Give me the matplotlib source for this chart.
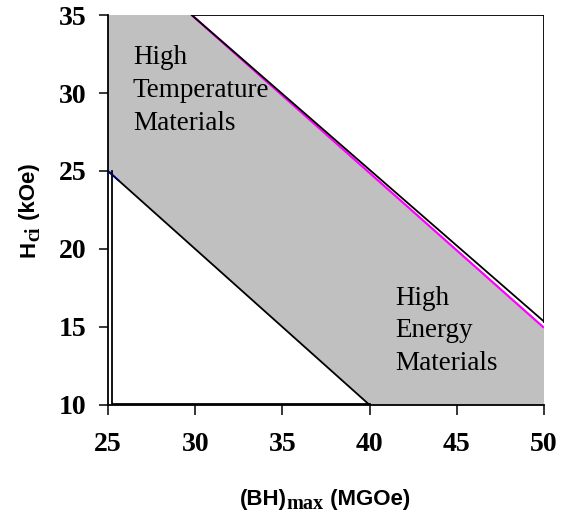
import numpy as np
import matplotlib.pyplot as plt

# region boundaries (BH)max in MGOe, Hci in kOe
band_bh = [25.0, 29.8, 50.0, 50.0, 40.0, 25.0]
band_hci = [35.0, 35.0, 15.0, 10.0, 10.0, 25.0]

upper_bh = [29.8, 50.0]
upper_hci = [35.0, 15.35]

pink_bh = [29.8, 50.0]
pink_hci = [35.0, 14.95]

lower_bh = [25.0, 40.0]
lower_hci = [25.0, 10.0]

box_bh = [29.8, 50.0, 50.0]
box_hci = [35.0, 35.0, 15.35]

corner_bh = [25.25, 25.25, 40.0]
corner_hci = [25.0, 10.06, 10.06]

x_ticks = [25, 30, 35, 40, 45, 50]
y_ticks = [10, 15, 20, 25, 30, 35]

SANS = dict(family="Liberation Sans", fontweight="bold", fontsize=16)
SUB = dict(family="Liberation Serif", fontweight="bold", fontsize=14.5)


def place_label(fig, pieces, center_px, along_y=False):
    """Lay out label pieces (text, props, drop in px) one after another."""
    texts = []
    for s, props, drop in pieces:
        t = fig.text(0, 0, s, ha="left", va="baseline", rotation=90 if along_y else 0,
                     rotation_mode="anchor", **props)
        texts.append((t, drop))
    fig.canvas.draw()
    r = fig.canvas.get_renderer()
    sizes = []
    for t, drop in texts:
        bb = t.get_window_extent(r)
        sizes.append(bb.height if along_y else bb.width)
    total = sum(sizes)
    W, H = fig.bbox.width, fig.bbox.height
    pos = -total / 2
    for (t, drop), size in zip(texts, sizes):
        if along_y:
            x = center_px[0] + drop
            y = center_px[1] + pos
        else:
            x = center_px[0] + pos
            y = center_px[1] - drop
        t.set_position((x / W, y / H))
        pos += size


fig = plt.figure(figsize=(5.66, 5.14), dpi=100)
ax = fig.add_axes([0.1908, 0.2121, 0.7703, 0.7587])

ax.fill(band_bh, band_hci, color="#c0c0c0", lw=0, zorder=1)
ax.plot(pink_bh, pink_hci, color="#ff00ff", lw=1.6, zorder=2, solid_capstyle="butt")
ax.plot(upper_bh, upper_hci, color="black", lw=1.3, zorder=3)
ax.plot(box_bh, box_hci, color="black", lw=1.3, zorder=3)
ax.plot(lower_bh, lower_hci, color="black", lw=1.3, zorder=3)
ax.plot(lower_bh[:1] + [25.6], lower_hci[:1] + [24.4], color="#000080", lw=1.3, zorder=4)
ax.plot(corner_bh, corner_hci, color="black", lw=1.3, zorder=3)

ax.text(26.43, 33.05, "High\nTemperature\nMaterials", family="Liberation Serif",
        fontsize=19.5, va="top", ha="left", linespacing=1.4)
ax.text(41.46, 17.65, "High\nEnergy\nMaterials", family="Liberation Serif",
        fontsize=19.5, va="top", ha="left", linespacing=1.4)

ax.set_xlim(25, 50)
ax.set_ylim(10, 35)
ax.set_xticks(x_ticks)
ax.set_yticks(y_ticks)
for lab in ax.get_xticklabels() + ax.get_yticklabels():
    lab.set_family("Liberation Serif")
    lab.set_fontweight("bold")
    lab.set_fontsize(20)
ax.tick_params(axis="x", direction="out", length=7.5, width=1.1, pad=12)
ax.tick_params(axis="y", direction="out", length=6.5, width=1.1, pad=9)

for side in ["top", "right"]:
    ax.spines[side].set_visible(False)
for side in ["left", "bottom"]:
    ax.spines[side].set_linewidth(1.3)

# axis titles: sans bold with serif bold subscripts
place_label(fig, [("(BH)", SANS, 0), ("max", SUB, 4), (" (MGOe)", SANS, 0)],
            (325, 9))
place_label(fig, [("H", SANS, 0), ("ci", SUB, 4), (" (kOe)", SANS, 0)],
            (35, 304), along_y=True)

fig.savefig("out.png", dpi=100)
